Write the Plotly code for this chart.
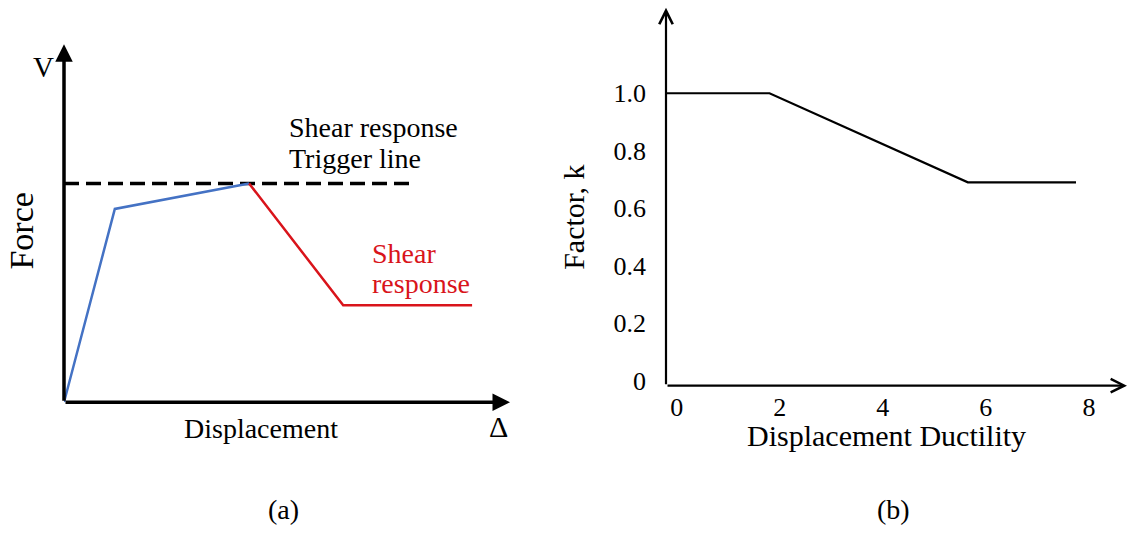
import plotly.graph_objects as go

W, H = 1128, 533

# (a) force-displacement sketch, arbitrary units
flex_disp = [0.0, 1.14, 4.15]
flex_force = [0.0, 5.40, 6.11]
shear_disp = [4.15, 6.26, 9.15]
shear_force = [6.11, 2.71, 2.71]
trigger_disp = [0.0, 7.74]
trigger_force = [6.11, 6.11]

# (b) shear strength factor k vs displacement ductility
ductility = [-0.2, 1.8, 5.65, 7.75]
factor_k = [1.0, 1.0, 0.69, 0.69]
k_ticks = [0, 0.2, 0.4, 0.6, 0.8, 1.0]
k_tick_text = ["0", "0.2", "0.4", "0.6", "0.8", "1.0"]
mu_ticks = [0, 2, 4, 6, 8]
mu_tick_text = ["0", "2", "4", "6", "8"]

FONT = "Liberation Serif"


def px(x):
    return x / W


def py(y):
    return 1 - y / H


fig = go.Figure()

fig.add_trace(go.Scatter(x=trigger_disp, y=trigger_force, mode="lines",
                         line=dict(color="black", width=3.5, dash="15px,7px"),
                         xaxis="x", yaxis="y", showlegend=False))
fig.add_trace(go.Scatter(x=flex_disp, y=flex_force, mode="lines",
                         line=dict(color="#4472c4", width=2.5),
                         xaxis="x", yaxis="y", showlegend=False))
fig.add_trace(go.Scatter(x=shear_disp, y=shear_force, mode="lines",
                         line=dict(color="#d9141b", width=2.5),
                         xaxis="x", yaxis="y", showlegend=False))
fig.add_trace(go.Scatter(x=ductility, y=factor_k, mode="lines",
                         line=dict(color="black", width=2.2),
                         xaxis="x2", yaxis="y2", showlegend=False))

hidden = dict(showgrid=False, zeroline=False, showline=False,
              showticklabels=False, ticks="", fixedrange=True)

a_xrange = [0, 10]
a_yrange = [0, 10]
b_xrange = [-0.21, 8.74]
b_yrange = [-0.017, 1.297]

tick_font = dict(family=FONT, size=26, color="black")

fig.update_layout(
    width=W, height=H, autosize=False,
    margin=dict(l=0, r=0, t=0, b=0),
    paper_bgcolor="white", plot_bgcolor="white",
    xaxis=dict(domain=[px(64), px(510)], range=a_xrange, **hidden),
    yaxis=dict(domain=[py(410), py(45)], range=a_yrange, **hidden),
    xaxis2=dict(domain=[px(666), px(1127)], range=b_xrange, anchor="y2",
                showgrid=False, zeroline=False, showline=False, ticks="",
                tickvals=mu_ticks, ticktext=mu_tick_text, tickfont=tick_font,
                ticklabelstandoff=3, fixedrange=True),
    yaxis2=dict(domain=[py(393), py(8)], range=b_yrange, anchor="x2",
                showgrid=False, zeroline=False, showline=False, ticks="",
                tickvals=k_ticks, ticktext=k_tick_text, tickfont=tick_font,
                ticklabelstandoff=19, fixedrange=True),
)

# axes drawn as arrows
arrows = [
    dict(x=a_xrange[0], y=a_yrange[1], ax=a_xrange[0], ay=a_yrange[0],
         xref="x", yref="y", axref="x", ayref="y", arrowhead=2, arrowsize=1.0,
         arrowwidth=3.5),
    dict(x=a_xrange[1], y=a_yrange[0], ax=a_xrange[0], ay=a_yrange[0],
         xref="x", yref="y", axref="x", ayref="y", arrowhead=2, arrowsize=1.0,
         arrowwidth=3.5),
    dict(x=b_xrange[0], y=b_yrange[1], ax=b_xrange[0], ay=b_yrange[0],
         xref="x2", yref="y2", axref="x2", ayref="y2", arrowhead=5, arrowsize=1.2,
         arrowwidth=2.2),
    dict(x=b_xrange[1], y=b_yrange[0], ax=b_xrange[0], ay=b_yrange[0],
         xref="x2", yref="y2", axref="x2", ayref="y2", arrowhead=5, arrowsize=1.2,
         arrowwidth=2.2),
]
for a in arrows:
    fig.add_annotation(text="", showarrow=True, arrowcolor="black",
                       standoff=0, startstandoff=0, **a)


def label(text, x, y, size=28, color="black", angle=0, xanchor="center"):
    fig.add_annotation(text=text, x=px(x), y=py(y), xref="paper", yref="paper",
                       showarrow=False, xanchor=xanchor, yanchor="middle",
                       textangle=angle,
                       font=dict(family=FONT, size=size, color=color))


label("V", 43, 68, size=29)
label("Δ", 498, 435, size=30)
label("Force", 22, 236, size=34, angle=-90)
label("Displacement", 261, 437)
label("Shear response", 287, 130, xanchor="left")
label("Trigger line", 287, 162, xanchor="left")
label("Shear", 370, 258, color="#d9141b", xanchor="left")
label("response", 370, 289, color="#d9141b", xanchor="left")
label("Factor, k", 574, 222, size=30, angle=-90)
label("Displacement Ductility", 886, 444, size=30)
label("(a)", 283, 519)
label("(b)", 893, 519)

fig.write_html("out.html")
